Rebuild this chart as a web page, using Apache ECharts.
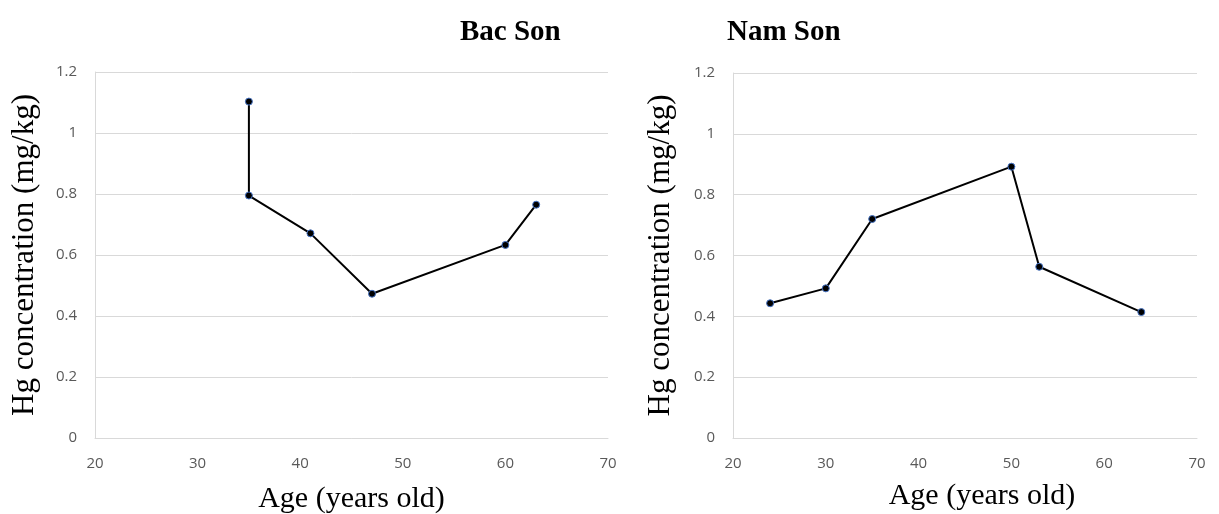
<!DOCTYPE html>
<html><head><meta charset="utf-8">
<script src="https://cdn.jsdelivr.net/npm/echarts@6/dist/echarts.min.js"></script>
<style>html,body{margin:0;padding:0;background:#fff}#c{width:1219px;height:514px}</style>
</head><body><div id="c"></div>
<script>
const bacSonAge = [35, 35, 41, 47, 60, 63];
const bacSonHg = [1.103, 0.795, 0.671, 0.473, 0.633, 0.765];
const namSonAge = [24, 30, 35, 50, 53, 64];
const namSonHg = [0.443, 0.492, 0.72, 0.892, 0.563, 0.414];
const titles = ["Bac Son", "Nam Son"];
const xTitle = "Age (years old)";
const yTitle = "Hg concentration (mg/kg)";

const chart = echarts.init(document.getElementById('c'));
const pairs = (xs, ys) => xs.map((x, i) => [x, ys[i]]);
const grids = [
  {left: 95, right: 611, top: 72, bottom: 76, outerBoundsMode: 'none', containLabel: false},
  {left: 733, right: 22, top: 73, bottom: 76, outerBoundsMode: 'none', containLabel: false}
];
const xNameGap = [46, 43];
const xNamePad = [[0, 0, 0, 0], [0, 0, 0, 34]];
const yNameGap = [55, 57];
const xAxis = grids.map((g, i) => ({
  type: 'value', gridIndex: i, min: 20, max: 70, interval: 10,
  name: xTitle, nameLocation: 'middle', nameGap: xNameGap[i],
  nameTextStyle: {fontFamily: 'Liberation Serif', fontSize: 30, color: '#000', padding: xNamePad[i]},
  axisLine: {show: true, lineStyle: {color: '#d9d9d9', width: 1}},
  axisTick: {show: false},
  axisLabel: {color: '#595959', fontFamily: 'Open Sans', fontSize: 15, margin: 18},
  splitLine: {show: false}
}));
const yAxis = grids.map((g, i) => ({
  type: 'value', gridIndex: i, min: 0, max: 1.2, interval: 0.2,
  name: yTitle, nameLocation: 'middle', nameGap: yNameGap[i],
  nameTextStyle: {fontFamily: 'Liberation Serif', fontSize: 31, color: '#000'},
  axisLine: {show: true, lineStyle: {color: '#d9d9d9', width: 1}},
  axisTick: {show: false},
  axisLabel: {color: '#595959', fontFamily: 'Open Sans', fontSize: 15, margin: 18,
    formatter: v => String(Math.round(v * 10) / 10)},
  splitLine: {show: true, lineStyle: {color: '#d9d9d9', width: 1}}
}));
const mkSeries = (data, i) => ({
  type: 'line', xAxisIndex: i, yAxisIndex: i, data: data,
  symbol: 'circle', symbolSize: 7,
  itemStyle: {color: '#000', borderColor: '#4472c4', borderWidth: 1},
  lineStyle: {color: '#000', width: 2},
  animation: false
});
chart.setOption({
  animation: false,
  title: [
    {text: titles[0], left: 455, top: 13, textStyle: {fontFamily: 'Liberation Serif', fontWeight: 'bold', fontSize: 29, color: '#000'}},
    {text: titles[1], left: 722, top: 13, textStyle: {fontFamily: 'Liberation Serif', fontWeight: 'bold', fontSize: 29, color: '#000'}}
  ],
  grid: grids,
  xAxis: xAxis,
  yAxis: yAxis,
  series: [mkSeries(pairs(bacSonAge, bacSonHg), 0), mkSeries(pairs(namSonAge, namSonHg), 1)]
});
</script></body></html>
